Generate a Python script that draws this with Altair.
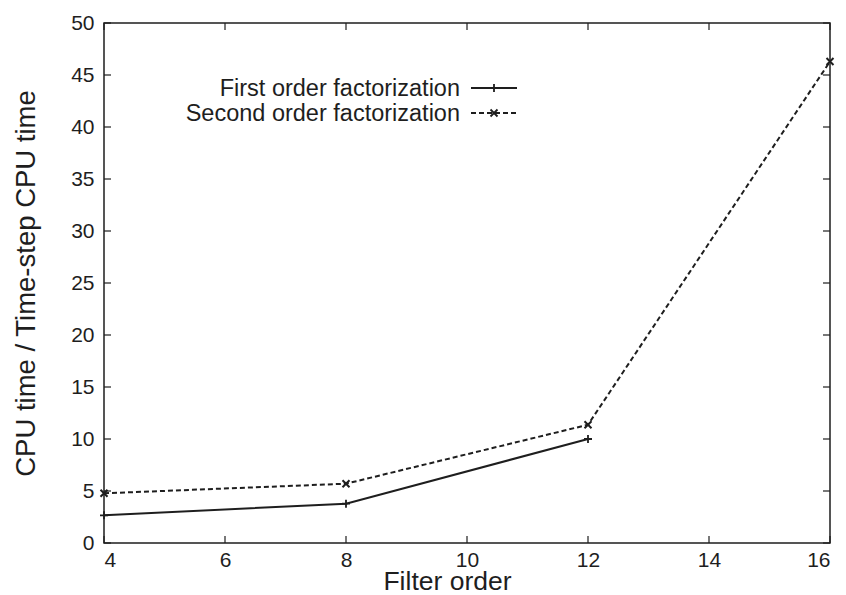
import altair as alt
import pandas as pd

# ---- data ----
filter_order_first = [4, 8, 12]
cpu_ratio_first = [2.66, 3.78, 10.0]
filter_order_second = [4, 8, 12, 16]
cpu_ratio_second = [4.78, 5.70, 11.37, 46.3]
series_names = ["First order factorization", "Second order factorization"]
x_ticks = [4, 6, 8, 10, 12, 14, 16]
y_ticks = [0, 5, 10, 15, 20, 25, 30, 35, 40, 45, 50]

df_first = pd.DataFrame({"order": filter_order_first, "ratio": cpu_ratio_first})
df_second = pd.DataFrame({"order": filter_order_second, "ratio": cpu_ratio_second})
df_xt = pd.DataFrame({"order": x_ticks})
df_yt = pd.DataFrame({"ratio": y_ticks})

W, H = 726, 520
INK = "#1e1e1e"
FONT = "Liberation Sans"
PLUS = "M-1,0L1,0M0,-1L0,1"
CROSS = "M-1,-1L1,1M-1,1L1,-1"
DASH = [5, 3]

xscale = alt.Scale(domain=[4, 16], nice=False, zero=False)
yscale = alt.Scale(domain=[0, 50], nice=False, zero=False)

x_axis = alt.Axis(values=x_ticks, format="d", title="Filter order", ticks=False,
                  domain=False, grid=False, labelFontSize=21, labelPadding=6,
                  titleFontSize=26.5, titleFontWeight="normal", titleX=343, titleY=46,
                  titleAlign="center", titleBaseline="alphabetic")
y_axis = alt.Axis(values=y_ticks, format="d", title="CPU time / Time-step CPU time",
                  ticks=False, domain=False, grid=False, labelFontSize=21,
                  labelPadding=10, titleFontSize=27.5, titleFontWeight="normal",
                  titleX=-70, titleY=H / 2, titleAngle=270, titleAlign="center",
                  titleBaseline="alphabetic")

X = alt.X("order:Q", scale=xscale, axis=x_axis)
Y = alt.Y("ratio:Q", scale=yscale, axis=y_axis)
Xp = alt.X("order:Q", scale=xscale)
Yp = alt.Y("ratio:Q", scale=yscale)

line_first = alt.Chart(df_first).mark_line(color=INK, strokeWidth=2).encode(x=X, y=Y)
line_second = alt.Chart(df_second).mark_line(color=INK, strokeWidth=2, strokeDash=DASH).encode(x=Xp, y=Yp)
pts_first = alt.Chart(df_first).mark_point(shape=PLUS, filled=False, size=64, color=INK,
                                           strokeWidth=1.8, opacity=1).encode(x=Xp, y=Yp)
pts_second = alt.Chart(df_second).mark_point(shape=CROSS, filled=False, size=49, color=INK,
                                             strokeWidth=2, opacity=1).encode(x=Xp, y=Yp)

tick_len = 7
xt_bottom = alt.Chart(df_xt).mark_rule(color=INK, strokeWidth=1.2).encode(
    x=Xp, y=alt.value(H), y2=alt.value(H - tick_len))
xt_top = alt.Chart(df_xt).mark_rule(color=INK, strokeWidth=1.2).encode(
    x=Xp, y=alt.value(0), y2=alt.value(tick_len))
yt_left = alt.Chart(df_yt).mark_rule(color=INK, strokeWidth=1.2).encode(
    y=Yp, x=alt.value(0), x2=alt.value(tick_len))
yt_right = alt.Chart(df_yt).mark_rule(color=INK, strokeWidth=1.2).encode(
    y=Yp, x=alt.value(W), x2=alt.value(W - tick_len))

# ---- key (gnuplot style: label, then sample to its right) ----
legend_layers = []
shapes = [PLUS, CROSS]
sizes = [64, 49]
dashes = [[1, 0], DASH]
for i, name in enumerate(series_names):
    row = pd.DataFrame({"label": [name]})
    ly = 65 + 25 * i
    legend_layers.append(alt.Chart(row).mark_text(align="right", baseline="middle", fontSize=23.5,
                                                  color=INK, font=FONT).encode(
        text="label:N", x=alt.value(356), y=alt.value(ly + 1)))
    legend_layers.append(alt.Chart(row).mark_rule(color=INK, strokeWidth=2, strokeDash=dashes[i]).encode(
        x=alt.value(367), x2=alt.value(413), y=alt.value(ly)))
    legend_layers.append(alt.Chart(row).mark_point(shape=shapes[i], filled=False, size=sizes[i],
                                                   color=INK, strokeWidth=1.8, opacity=1).encode(
        x=alt.value(390), y=alt.value(ly)))

chart = alt.layer(
    line_first, line_second, pts_first, pts_second,
    xt_bottom, xt_top, yt_left, yt_right, *legend_layers
).properties(
    width=W, height=H,
    padding={"left": 96, "top": 15, "right": 8, "bottom": 52},
    autosize=alt.AutoSizeParams(type="none"),
    background="white",
).configure_view(
    stroke=INK, strokeWidth=1.5
).configure_axis(
    labelColor=INK, titleColor=INK, labelFont=FONT, titleFont=FONT
).configure_text(font=FONT)

chart.save("out.html", embed_options={"renderer": "svg", "actions": False})
